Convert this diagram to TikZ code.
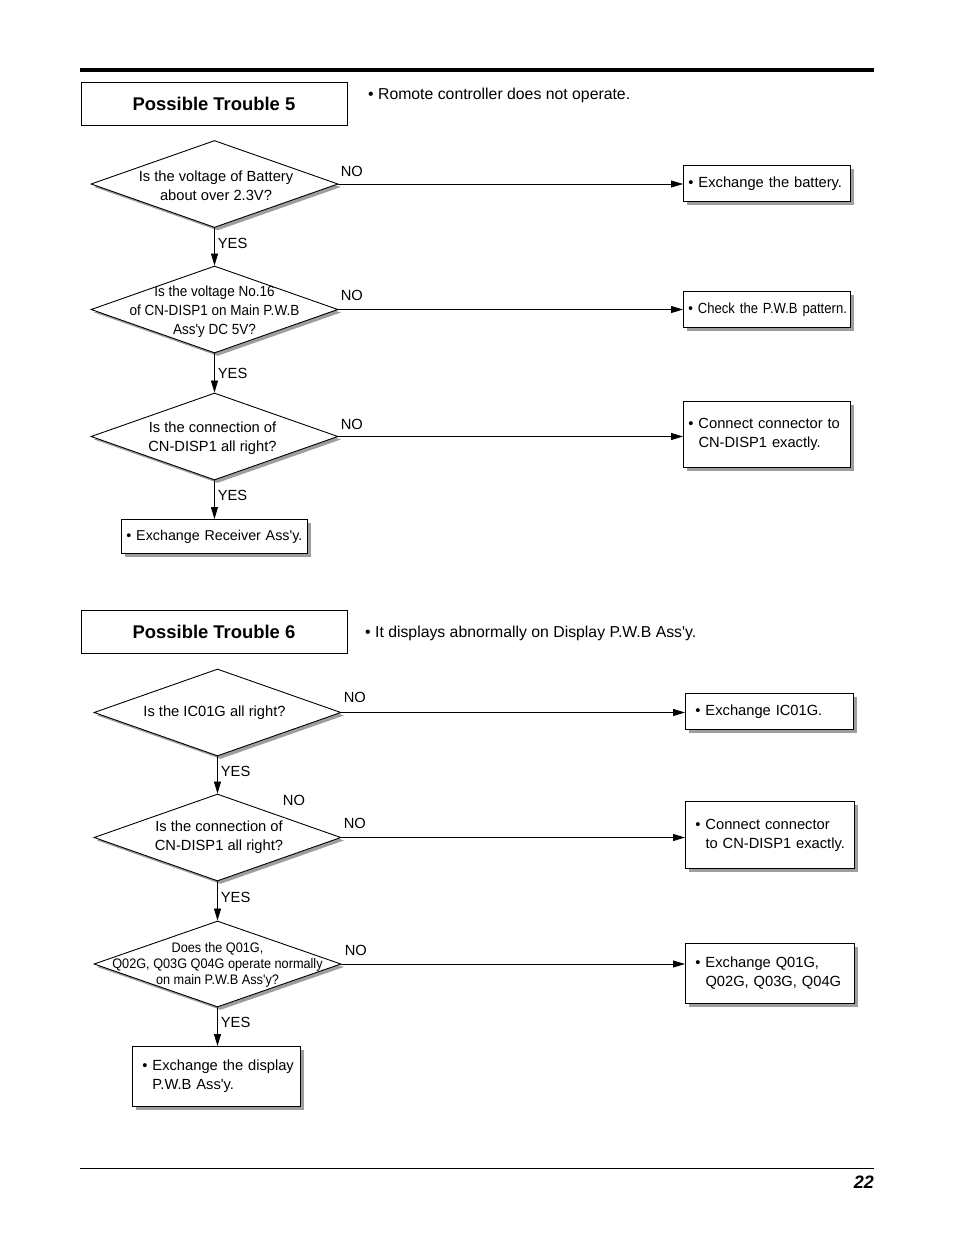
\documentclass[tikz,border=0pt]{standalone}
\usepackage{fontspec}
\setmainfont{Liberation Sans}[Ligatures=TeXOff]
\newfontfamily\narrowfont[FakeStretch=0.92]{Liberation Sans}
\newfontfamily\narrowerfont[FakeStretch=0.89]{Liberation Sans}
\usepackage{tikz}
\usetikzlibrary{shapes, arrows.meta, shadows, calc}
\newcommand{\shadowcolor}{black!38}
\newcommand{\bodyfont}{\fontsize{14.7}{19}\selectfont}
\newcommand{\ind}{\phantom{\textbullet\ }}

\begin{document}
\begin{tikzpicture}[x=1pt, y=-1pt]
	\tikzstyle{decision}=[diamond, draw=black, fill=white, line width=0.9pt, minimum width=247pt, minimum height=87pt, inner sep=0pt, drop shadow={shadow xshift=3pt, shadow yshift=-3pt, fill=\shadowcolor, opacity=1}]
	\tikzstyle{qtext}=[align=center, font=\bodyfont, inner sep=0pt]
	\tikzstyle{action}=[draw=black, fill=white, line width=0.9pt, anchor=north west, align=left, font=\bodyfont, inner xsep=5pt, text width=157pt, minimum height=36pt, drop shadow={shadow xshift=3.5pt, shadow yshift=-3.5pt, fill=\shadowcolor, opacity=1}]
	\tikzstyle{title}=[draw=black, line width=0.9pt, minimum width=266pt, minimum height=43pt, font=\fontsize{18.4}{22}\selectfont\bfseries]
	\tikzstyle{note}=[anchor=west, font=\fontsize{15.8}{19}\selectfont, inner sep=2pt]
	\tikzstyle{lbl}=[font=\bodyfont, inner sep=1pt]
	\tikzstyle{arr}=[line width=0.8pt, -{Triangle[length=12pt, width=7pt]}]

	\useasboundingbox (0,0) rectangle (954,1243);

	%% page rules
	\draw[line width=3.5pt] (80,70) -- (874,70);
	\draw[line width=0.9pt] (80,1168) -- (874,1168);
	\node[anchor=east, inner sep=0pt, font=\fontsize{18}{22}\selectfont\bfseries\itshape] (pnum) at (874,1182) {22};

	%% trouble 5
	\node (pt5) at (214,103.5) [title]{Possible Trouble 5};
	\node (sym5) at (366,95) [note]{\textbullet\ Romote controller does not operate.};

	\node (q1) at (214.5,184) [decision]{};
	\node at (q1) [qtext, xshift=1.5pt, yshift=-1.5pt]{Is the voltage of Battery\\about over 2.3V?};
	\node (q2) at (214.5,309.5) [decision]{};
	\node at (q2) [qtext, yshift=-2pt, font=\narrowfont\bodyfont]{Is the voltage No.16\\of CN-DISP1 on Main P.W.B\\Ass'y DC 5V?};
	\node (q3) at (214.5,436.5) [decision]{};
	\node at (q3) [qtext, xshift=-2pt, yshift=-1.5pt]{Is the connection of\\CN-DISP1 all right?};

	\node (a1) at (683,165) [action]{\mbox{\textbullet\ Exchange the battery.}};
	\node (a2) at (683,291) [action, font=\narrowerfont\bodyfont]{\mbox{\textbullet\ Check the P.W.B pattern.}};
	\node (a3) at (683,401) [action, minimum height=66pt]{\mbox{\textbullet\ Connect connector to}\\\ind CN-DISP1 exactly.};
	\node (a4) at (121,519) [action, inner xsep=5pt, text width=176pt, minimum height=34pt, font=\fontsize{14.3}{19}\selectfont]{\mbox{\textbullet\ Exchange Receiver Ass'y.}};

	\draw[arr] (q1.east) -- node[lbl, pos=0, anchor=south west, xshift=1pt, yshift=6pt]{NO} (a1.west |- q1.east);
	\draw[arr] (q2.east) -- node[lbl, pos=0, anchor=south west, xshift=1pt, yshift=7pt]{NO} (a2.west |- q2.east);
	\draw[arr] (q3.east) -- node[lbl, pos=0, anchor=south west, xshift=1pt, yshift=5pt]{NO} (a3.west |- q3.east);
	\draw[arr] (q1.south) -- node[lbl, pos=0.42, anchor=west, inner sep=3pt]{YES} (q2.north);
	\draw[arr] (q2.south) -- node[lbl, pos=0.5, anchor=west, inner sep=3pt]{YES} (q3.north);
	\draw[arr] (q3.south) -- node[lbl, pos=0.38, anchor=west, inner sep=3pt]{YES} (a4.north);

	%% trouble 6
	\node (pt6) at (214,631.5) [title]{Possible Trouble 6};
	\node (sym6) at (363,633) [note]{\textbullet\ It displays abnormally on Display P.W.B Ass'y.};

	\node (q4) at (217.5,712.5) [decision]{};
	\node at (q4) [qtext, xshift=-3pt]{Is the IC01G all right?};
	\node (q5) at (217.5,837.5) [decision]{};
	\node at (q5) [qtext, xshift=1.5pt]{Is the connection of\\CN-DISP1 all right?};
	\node (q6) at (217.5,964) [decision, minimum height=86pt]{};
	\node at (q6) [qtext, yshift=-1pt, font=\narrowfont\fontsize{13.8}{16}\selectfont]{Does the Q01G,\\Q02G, Q03G Q04G operate normally\\on main P.W.B Ass'y?};
	\node (no5) at (294,800) [lbl]{NO};

	\node (a5) at (685,693) [action, inner xsep=10pt, text width=148pt]{\mbox{\textbullet\ Exchange IC01G.}};
	\node (a6) at (685,801) [action, inner xsep=10pt, text width=149pt, minimum height=67pt]{\mbox{\textbullet\ Connect connector}\\\ind\mbox{to CN-DISP1 exactly.}};
	\node (a7) at (685,943) [action, inner xsep=10pt, text width=149pt, minimum height=60pt]{\mbox{\textbullet\ Exchange Q01G,}\\\ind\mbox{Q02G, Q03G, Q04G}};
	\node (a8) at (132,1046) [action, inner xsep=10pt, text width=148pt, minimum height=60pt]{\mbox{\textbullet\ Exchange the display}\\\ind P.W.B Ass'y.};

	\draw[arr] (q4.east) -- node[lbl, pos=0, anchor=south west, xshift=1pt, yshift=8pt]{NO} (a5.west |- q4.east);
	\draw[arr] (q5.east) -- node[lbl, pos=0, anchor=south west, xshift=1pt, yshift=7pt]{NO} (a6.west |- q5.east);
	\draw[arr] (q6.east) -- node[lbl, pos=0, anchor=south west, xshift=2pt, yshift=7pt]{NO} (a7.west |- q6.east);
	\draw[arr] (q4.south) -- node[lbl, pos=0.4, anchor=west, inner sep=3pt]{YES} (q5.north);
	\draw[arr] (q5.south) -- node[lbl, pos=0.4, anchor=west, inner sep=3pt]{YES} (q6.north);
	\draw[arr] (q6.south) -- node[lbl, pos=0.38, anchor=west, inner sep=3pt]{YES} (q6.south |- a8.north);
\end{tikzpicture}
\end{document}
